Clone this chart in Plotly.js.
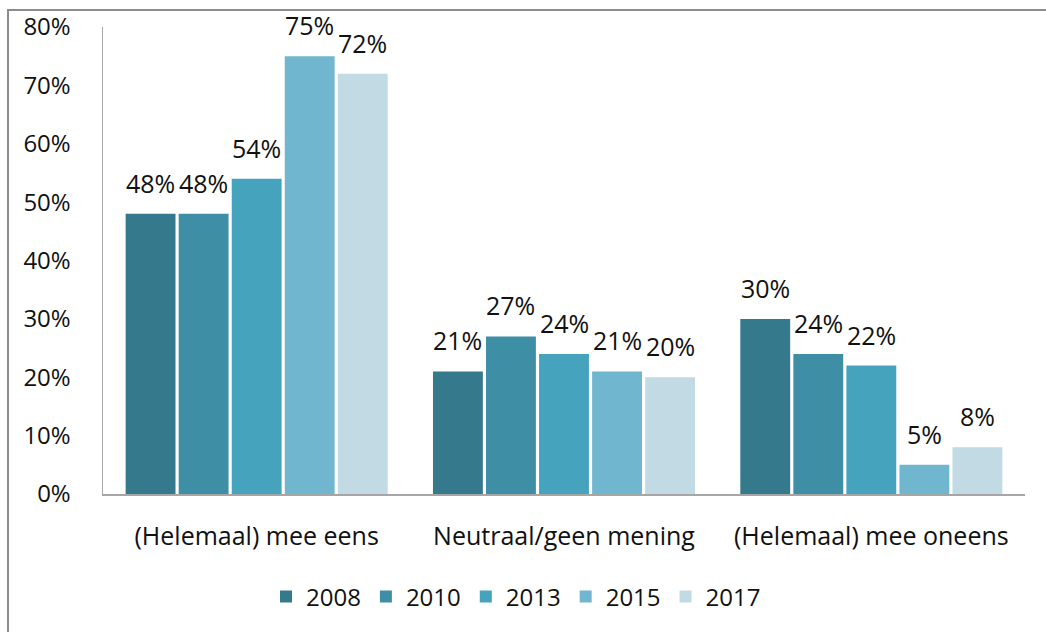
<!DOCTYPE html>
<html>
<head>
<meta charset="utf-8">
<script src="https://cdn.plot.ly/plotly-3.0.1.min.js"></script>
<style>html,body{margin:0;padding:0;background:#fff}#chart{width:1046px;height:632px}</style>
</head>
<body>
<div id="chart"></div>
<script>
const categories = ["(Helemaal) mee eens", "Neutraal/geen mening", "(Helemaal) mee oneens"];
const years = ["2008", "2010", "2013", "2015", "2017"];
const v2008 = [0.48, 0.21, 0.30];
const v2010 = [0.48, 0.27, 0.24];
const v2013 = [0.54, 0.24, 0.22];
const v2015 = [0.75, 0.21, 0.05];
const v2017 = [0.72, 0.20, 0.08];
const yTicks = [0, 0.1, 0.2, 0.3, 0.4, 0.5, 0.6, 0.7, 0.8];
const colors = ["#357a8c", "#3e8ea6", "#45a3bd", "#70b6ce", "#c1dae4"];

const series = [v2008, v2010, v2013, v2015, v2017];
const FONT = "Open Sans";
const W = 1046, H = 632;
const margin = {l: 103, r: 21, t: 27, b: 138};
const plotW = W - margin.l - margin.r;
const plotH = H - margin.t - margin.b;
const bargap = 0.137, bargroupgap = 0.06;

const traces = series.map((vals, i) => ({
  type: "bar",
  name: years[i],
  x: categories,
  y: vals,
  marker: {color: colors[i], line: {width: 0}},
  hoverinfo: "none"
}));

const catW = plotW / categories.length;
const slot = catW * (1 - bargap) / years.length;
const annotations = [];
series.forEach((vals, i) => {
  vals.forEach((v, j) => {
    annotations.push({
      x: categories[j], y: v, xref: "x", yref: "y",
      text: Math.round(v * 100) + "%",
      showarrow: false, yanchor: "bottom", xanchor: "center",
      xshift: (i - (years.length - 1) / 2) * slot,
      yshift: 12,
      font: {family: FONT, size: 25, color: "#111"}
    });
  });
});

const px2x = px => (px - margin.l) / plotW;
const px2y = py => (H - margin.b - py) / plotH;

const layout = {
  width: W, height: H,
  margin: margin,
  paper_bgcolor: "#fff", plot_bgcolor: "#fff",
  font: {family: FONT, size: 24, color: "#111"},
  barmode: "group",
  bargap: bargap,
  bargroupgap: bargroupgap,
  showlegend: true,
  legend: {
    orientation: "h", x: px2x(516), xanchor: "center",
    y: px2y(597), yanchor: "middle",
    font: {family: FONT, size: 24, color: "#111"},
    traceorder: "normal"
  },
  xaxis: {
    type: "category",
    showline: true, linecolor: "#a6a6a6", linewidth: 2,
    ticks: "", showgrid: false, zeroline: false,
    ticklabelstandoff: 19,
    tickfont: {family: FONT, size: 25, color: "#111"},
    fixedrange: true
  },
  yaxis: {
    range: [0, 0.8],
    tickvals: yTicks,
    tickformat: ".0%",
    showline: true, linecolor: "#a6a6a6", linewidth: 1.5,
    ticks: "", showgrid: false, zeroline: false,
    ticklabelstandoff: 26,
    tickfont: {family: FONT, size: 24, color: "#111"},
    fixedrange: true
  },
  annotations: annotations,
  shapes: [{
    type: "rect", xref: "paper", yref: "paper",
    x0: px2x(8), x1: px2x(W + 20), y0: px2y(H + 20), y1: px2y(10),
    line: {color: "#8c8c8c", width: 2}, fillcolor: "rgba(0,0,0,0)", layer: "below"
  }]
};

Plotly.newPlot("chart", traces, layout, {displayModeBar: false, staticPlot: true});
</script>
</body>
</html>
